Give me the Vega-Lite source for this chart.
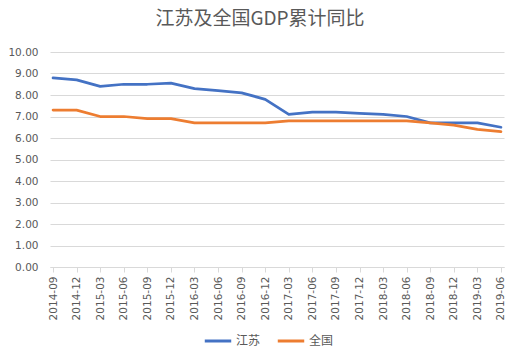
{
  "$schema": "https://vega.github.io/schema/vega-lite/v6.json",
  "width": 454,
  "height": 215,
  "autosize": {"type": "none"},
  "padding": {"left": 50, "top": 52, "right": 15, "bottom": 87},
  "background": "white",
  "title": {
    "text": "江苏及全国GDP累计同比",
    "font": "Noto Sans CJK SC",
    "fontSize": 19,
    "fontWeight": "normal",
    "color": "#595959",
    "anchor": "middle",
    "dx": -17,
    "offset": 18
  },
  "data": {
    "values": [
      {"q": "2014-09", "s": "江苏", "v": 8.8},
      {"q": "2014-12", "s": "江苏", "v": 8.7},
      {"q": "2015-03", "s": "江苏", "v": 8.4},
      {"q": "2015-06", "s": "江苏", "v": 8.5},
      {"q": "2015-09", "s": "江苏", "v": 8.5},
      {"q": "2015-12", "s": "江苏", "v": 8.55},
      {"q": "2016-03", "s": "江苏", "v": 8.3},
      {"q": "2016-06", "s": "江苏", "v": 8.2},
      {"q": "2016-09", "s": "江苏", "v": 8.1},
      {"q": "2016-12", "s": "江苏", "v": 7.8},
      {"q": "2017-03", "s": "江苏", "v": 7.1},
      {"q": "2017-06", "s": "江苏", "v": 7.2},
      {"q": "2017-09", "s": "江苏", "v": 7.2},
      {"q": "2017-12", "s": "江苏", "v": 7.15},
      {"q": "2018-03", "s": "江苏", "v": 7.1},
      {"q": "2018-06", "s": "江苏", "v": 7.0},
      {"q": "2018-09", "s": "江苏", "v": 6.7},
      {"q": "2018-12", "s": "江苏", "v": 6.7},
      {"q": "2019-03", "s": "江苏", "v": 6.7},
      {"q": "2019-06", "s": "江苏", "v": 6.5},
      {"q": "2014-09", "s": "全国", "v": 7.3},
      {"q": "2014-12", "s": "全国", "v": 7.3},
      {"q": "2015-03", "s": "全国", "v": 7.0},
      {"q": "2015-06", "s": "全国", "v": 7.0},
      {"q": "2015-09", "s": "全国", "v": 6.9},
      {"q": "2015-12", "s": "全国", "v": 6.9},
      {"q": "2016-03", "s": "全国", "v": 6.7},
      {"q": "2016-06", "s": "全国", "v": 6.7},
      {"q": "2016-09", "s": "全国", "v": 6.7},
      {"q": "2016-12", "s": "全国", "v": 6.7},
      {"q": "2017-03", "s": "全国", "v": 6.8},
      {"q": "2017-06", "s": "全国", "v": 6.8},
      {"q": "2017-09", "s": "全国", "v": 6.8},
      {"q": "2017-12", "s": "全国", "v": 6.8},
      {"q": "2018-03", "s": "全国", "v": 6.8},
      {"q": "2018-06", "s": "全国", "v": 6.8},
      {"q": "2018-09", "s": "全国", "v": 6.7},
      {"q": "2018-12", "s": "全国", "v": 6.6},
      {"q": "2019-03", "s": "全国", "v": 6.4},
      {"q": "2019-06", "s": "全国", "v": 6.3}
    ]
  },
  "mark": {"type": "line", "strokeWidth": 2.75, "strokeCap": "round", "strokeJoin": "round"},
  "encoding": {
    "x": {
      "field": "q",
      "type": "ordinal",
      "sort": null,
      "scale": {"type": "point", "padding": 0.13},
      "axis": {
        "title": null,
        "labelAngle": -90,
        "labelFont": "DejaVu Sans",
        "labelFontSize": 10.5,
        "labelColor": "#595959",
        "labelPadding": 4,
        "domainColor": "#D9D9D9",
        "tickColor": "#D9D9D9",
        "tickSize": 5,
        "grid": false
      }
    },
    "y": {
      "field": "v",
      "type": "quantitative",
      "scale": {"domain": [0, 10], "nice": false},
      "axis": {
        "title": null,
        "values": [0, 1, 2, 3, 4, 5, 6, 7, 8, 9, 10],
        "format": ".2f",
        "labelFont": "DejaVu Sans",
        "labelFontSize": 10.5,
        "labelColor": "#595959",
        "labelPadding": 12,
        "domain": false,
        "ticks": false,
        "gridColor": "#D9D9D9",
        "gridWidth": 1
      }
    },
    "color": {
      "field": "s",
      "type": "nominal",
      "sort": ["江苏", "全国"],
      "scale": {"domain": ["江苏", "全国"], "range": ["#4472C4", "#ED7D31"]},
      "legend": {
        "title": null,
        "orient": "none",
        "direction": "horizontal",
        "legendX": 153,
        "legendY": 274,
        "symbolType": "stroke",
        "symbolSize": 700,
        "symbolStrokeWidth": 3,
        "labelFont": "Noto Sans CJK SC",
        "labelFontSize": 12,
        "labelColor": "#595959",
        "columnPadding": 10,
        "labelOffset": 3
      }
    }
  },
  "config": {"view": {"stroke": null}}
}
